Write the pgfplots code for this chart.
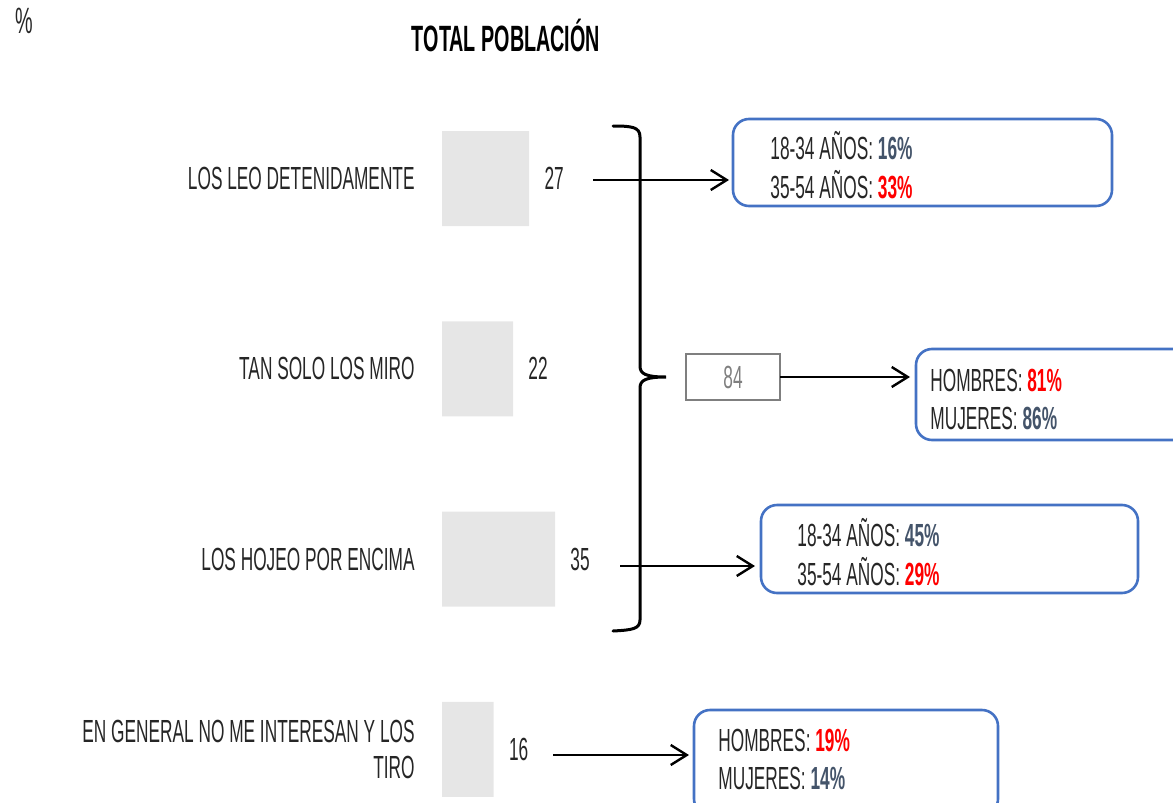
\documentclass[border=0pt]{standalone}
\usepackage{fontspec}
\setmainfont{Liberation Sans}[FakeStretch=0.54]
\usepackage{pgfplots}
\pgfplotsset{compat=1.18}
\usetikzlibrary{arrows.meta}

\definecolor{barfill}{RGB}{230,230,230}
\definecolor{txt}{RGB}{38,38,38}
\definecolor{slate}{RGB}{68,84,106}
\definecolor{hot}{RGB}{255,0,0}
\definecolor{frame}{RGB}{68,114,196}
\definecolor{midgray}{RGB}{127,127,127}

\newcommand{\lbl}{\fontsize{16}{18}\selectfont}
\newcommand{\head}{\fontsize{18.3}{20}\selectfont}
\newcommand{\pct}[2]{\textcolor{#1}{\bfseries #2}}

\begin{document}
\begin{tikzpicture}[x=0.5pt,y=-0.5pt]
\useasboundingbox (0,0) rectangle (1173,803);

% headings
\node[text=txt,font=\head,inner sep=0pt] at (24,21) {\%};
\node[text=black,font=\head\bfseries,inner sep=0pt] at (506,35) {TOTAL POBLACIÓN};

% top-left corner of the bar area
\coordinate (plotNW) at (442,83.35);

\begin{axis}[
  at={(plotNW)}, anchor=north west,
  x=1.615pt, y=95.15pt,
  xmin=0, xmax=100, ymin=-0.5, ymax=3.5,
  y dir=reverse, clip=false,
  axis line style={draw=none}, tick style={draw=none},
  xtick=\empty,
  ytick={0,1,2,3},
  yticklabels={{LOS LEO DETENIDAMENTE},{TAN SOLO LOS MIRO},{LOS HOJEO POR ENCIMA},{EN GENERAL NO ME INTERESAN Y LOS\\TIRO}},
  yticklabel style={anchor=east, inner sep=0pt, xshift=-13.5pt, align=right, text=txt, font=\lbl},
  /pgf/number format/assume math mode=true,
]
\addplot[xbar, bar width=47.5pt, fill=barfill, draw=none,
  nodes near coords,
  every node near coord/.style={anchor=west, inner sep=0pt, xshift=7.5pt, text=txt, font=\lbl}]
  coordinates {(27,0) (22,1) (35,2) (16,3)};
\end{axis}

% brace grouping the first three answers
\draw[line width=1.5pt, line cap=round]
  (613,126) .. controls (632,126) and (640,127) .. (640,137)
  -- (640,366) .. controls (640,374) and (646,377) .. (666,377)
  .. controls (646,377) and (640,380) .. (640,388)
  -- (640,620) .. controls (640,629) and (632,630) .. (613,631);

% total box
\draw[midgray, line width=1pt] (686,354) rectangle (780,400);
\node[text=midgray, font=\lbl, inner sep=0pt] at (733,377) {84};

% arrows
\tikzset{arr/.style={line width=1.2pt, -{Straight Barb[length=8pt,width=10pt,line width=1.2pt]}}}
\draw[arr] (593,180) -- (729,180);
\draw[arr] (780,377) -- (910,377);
\draw[arr] (620,566) -- (755,566);
\draw[arr] (553,755) -- (689,755);

% breakdown boxes
\tikzset{bx/.style={frame, line width=1.3pt, rounded corners=8pt}}
\draw[bx] (733,119) rectangle (1112,206);
\draw[bx] (916,349) rectangle (1190,440);
\draw[bx] (761,505) rectangle (1138,593);
\draw[bx] (694,710) rectangle (998,815);

\tikzset{bt/.style={anchor=base west, inner sep=0pt, text=txt, font=\lbl}}
\node[bt] at (770,159) {18-34 AÑOS: \pct{slate}{16\%}};
\node[bt] at (770,198) {35-54 AÑOS: \pct{hot}{33\%}};
\node[bt] at (930,391) {HOMBRES: \pct{hot}{81\%}};
\node[bt] at (930,429) {MUJERES: \pct{slate}{86\%}};
\node[bt] at (797,546) {18-34 AÑOS: \pct{slate}{45\%}};
\node[bt] at (797,585) {35-54 AÑOS: \pct{hot}{29\%}};
\node[bt] at (718,751) {HOMBRES: \pct{hot}{19\%}};
\node[bt] at (718,789) {MUJERES: \pct{slate}{14\%}};
\end{tikzpicture}
\end{document}
